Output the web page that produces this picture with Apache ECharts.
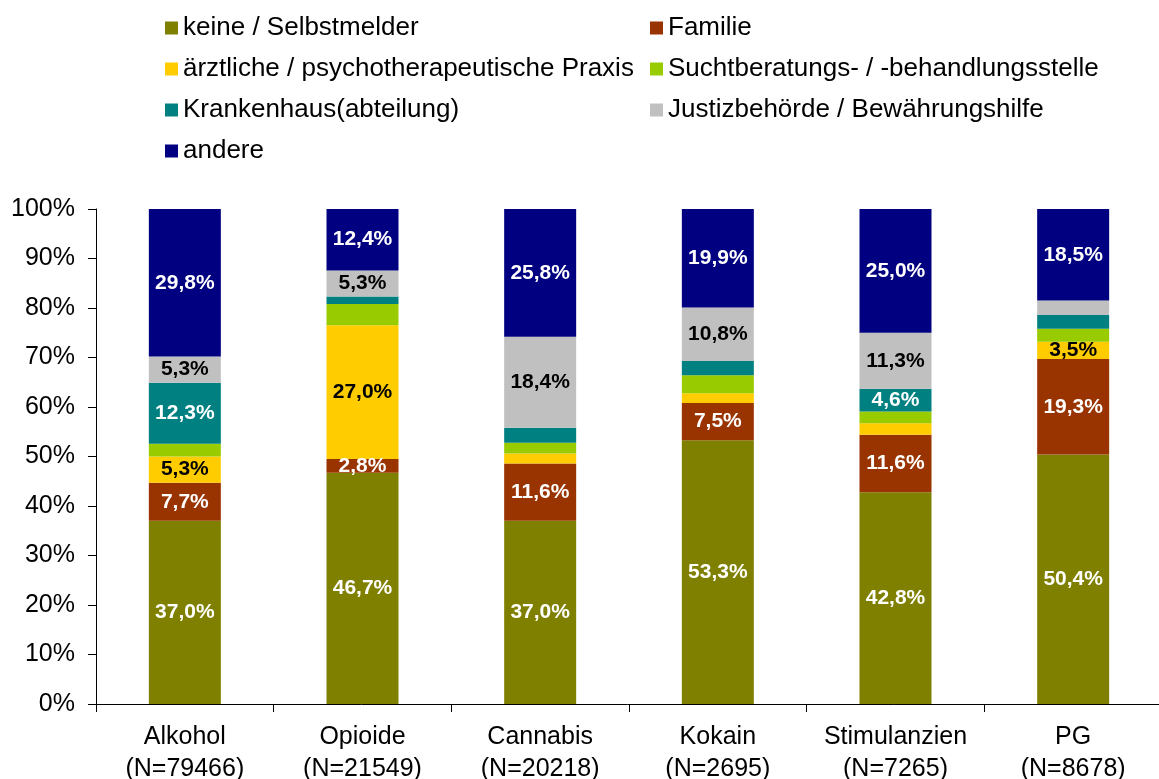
<!DOCTYPE html>
<html>
<head>
<meta charset="utf-8">
<script src="https://cdn.jsdelivr.net/npm/echarts@6/dist/echarts.min.js"></script>
<style>
  html, body { margin: 0; padding: 0; background: #fff; }
  #main { width: 1159px; height: 779px; }
</style>
</head>
<body>
<div id="main"></div>
<script>
// Kategorien (Hauptsubstanz)
const categories = ['Alkohol\n(N=79466)', 'Opioide\n(N=21549)', 'Cannabis\n(N=20218)',
                    'Kokain\n(N=2695)', 'Stimulanzien\n(N=7265)', 'PG\n(N=8678)'];

// Anteile in Prozent je Vermittlungsinstanz
const keine       = [37.0, 46.7, 37.0, 53.3, 42.8, 50.4];
const familie     = [7.7, 2.8, 11.6, 7.5, 11.6, 19.3];
const aerztlich   = [5.3, 27.0, 2.0, 2.0, 2.3, 3.5];
const sucht       = [2.6, 4.3, 2.2, 3.6, 2.4, 2.6];
const krankenhaus = [12.3, 1.5, 3.0, 2.9, 4.6, 2.8];
const justiz      = [5.3, 5.3, 18.4, 10.8, 11.3, 2.9];
const andere      = [29.8, 12.4, 25.8, 19.9, 25.0, 18.5];

// welche Segmente beschriftet sind
const showKeine       = [1, 1, 1, 1, 1, 1];
const showFamilie     = [1, 1, 1, 1, 1, 1];
const showAerztlich   = [1, 1, 0, 0, 0, 1];
const showSucht       = [0, 0, 0, 0, 0, 0];
const showKrankenhaus = [1, 0, 0, 0, 1, 0];
const showJustiz      = [1, 1, 1, 1, 1, 0];
const showAndere      = [1, 1, 1, 1, 1, 1];

const yTicks = [0, 10, 20, 30, 40, 50, 60, 70, 80, 90, 100];

const FONT = '"Liberation Sans", Arial, sans-serif';

const fmt = v => v.toFixed(1).replace('.', ',') + '%';

function makeSeries(name, values, shows, color, labelColor) {
  return {
    name: name,
    type: 'bar',
    stack: 'total',
    barWidth: 72,
    itemStyle: { color: color },
    label: {
      position: 'inside',
      color: labelColor,
      fontFamily: FONT,
      fontWeight: 'bold',
      fontSize: 21,
      formatter: p => fmt(p.value)
    },
    data: values.map((v, i) => ({ value: v, label: { show: !!shows[i] } }))
  };
}

const chart = echarts.init(document.getElementById('main'));

const legendText = { fontFamily: FONT, fontSize: 26, color: '#000', lineHeight: 30 };

const option = {
  backgroundColor: '#fff',
  animation: false,
  legend: [
    {
      orient: 'vertical',
      left: 160, top: 8,
      icon: 'rect', itemWidth: 13, itemHeight: 13, itemGap: 11,
      textStyle: legendText,
      data: ['keine / Selbstmelder', 'ärztliche / psychotherapeutische Praxis',
             'Krankenhaus(abteilung)', 'andere']
    },
    {
      orient: 'vertical',
      left: 645, top: 8,
      icon: 'rect', itemWidth: 13, itemHeight: 13, itemGap: 11,
      textStyle: legendText,
      data: ['Familie', 'Suchtberatungs- / -behandlungsstelle',
             'Justizbehörde / Bewährungshilfe']
    }
  ],
  grid: { left: 96, right: -3, top: 209, bottom: 75, outerBoundsMode: 'none' },
  xAxis: {
    type: 'category',
    data: categories,
    axisLine: { lineStyle: { color: '#000', width: 1 } },
    axisTick: { show: true, interval: 0, length: 8, lineStyle: { color: '#000' } },
    axisLabel: {
      interval: 0,
      color: '#000', fontFamily: FONT, fontSize: 25, lineHeight: 32, margin: 17
    }
  },
  yAxis: {
    type: 'value',
    min: yTicks[0], max: yTicks[yTicks.length - 1], interval: 10,
    axisLine: { show: true, lineStyle: { color: '#000', width: 1 } },
    axisTick: { show: true, length: 8, lineStyle: { color: '#000' } },
    splitLine: { show: false },
    axisLabel: {
      color: '#000', fontFamily: FONT, fontSize: 25, margin: 21,
      formatter: '{value}%'
    }
  },
  series: [
    makeSeries('keine / Selbstmelder', keine, showKeine, '#808000', '#fff'),
    makeSeries('Familie', familie, showFamilie, '#993300', '#fff'),
    makeSeries('ärztliche / psychotherapeutische Praxis', aerztlich, showAerztlich, '#FFCC00', '#000'),
    makeSeries('Suchtberatungs- / -behandlungsstelle', sucht, showSucht, '#99CC00', '#000'),
    makeSeries('Krankenhaus(abteilung)', krankenhaus, showKrankenhaus, '#008080', '#fff'),
    makeSeries('Justizbehörde / Bewährungshilfe', justiz, showJustiz, '#C0C0C0', '#000'),
    makeSeries('andere', andere, showAndere, '#000080', '#fff')
  ]
};

chart.setOption(option);
</script>
</body>
</html>
